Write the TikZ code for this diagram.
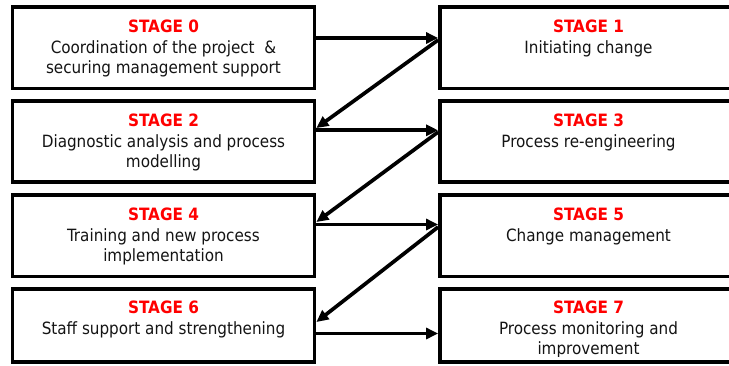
\documentclass[tikz,border=0pt]{standalone}
\usepackage{fontspec}
\setmainfont{DejaVu Sans Condensed}
\usetikzlibrary{arrows.meta}
\definecolor{stagered}{RGB}{255,0,0}
\definecolor{ink}{RGB}{20,20,20}
\tikzset{
  box/.style={draw=black, line width=3.8bp, rectangle, inner sep=0pt},
  lbox/.style={box, minimum width=302bp},
  rbox/.style={box, minimum width=297bp},
  head/.style={anchor=base, inner sep=0pt, text=stagered,
    font=\fontsize{17bp}{20bp}\selectfont\bfseries},
  body/.style={anchor=base, inner sep=0pt, text=ink,
    font=\fontsize{16.9bp}{20bp}\selectfont},
  flow/.style={line width=3.7bp, -{Triangle[length=12bp,width=11bp]}},
  thinflow/.style={flow, line width=3bp},
}
\begin{document}
\begin{tikzpicture}[x=1bp,y=-1bp]
\useasboundingbox (0,0) rectangle (729,365);

% left column of stages
\node[lbox, minimum height=81.5bp] (s0) at (163.5,47.75) {};
\node[lbox, minimum height=81bp]   (s2) at (163.5,141.5) {};
\node[lbox, minimum height=81.5bp] (s4) at (163.5,235.75) {};
\node[lbox, minimum height=73bp]   (s6) at (163.5,325.5) {};

% right column of stages (runs past the right edge)
\node[rbox, minimum height=81.5bp] (s1) at (588.5,47.75) {};
\node[rbox, minimum height=81bp]   (s3) at (588.5,141.5) {};
\node[rbox, minimum height=81.5bp] (s5) at (588.5,235.75) {};
\node[rbox, minimum height=73bp]   (s7) at (588.5,325.5) {};

% stage texts
\node[head] (h0) at (163.5,32) {STAGE 0};
\node[body] (a0) at (163.5,53) {Coordination of the project\ \ \&};
\node[body] (b0) at (163.5,73) {securing management support};

\node[head] (h1) at (588.5,32) {STAGE 1};
\node[body] (a1) at (588.5,53) {Initiating change};

\node[head] (h2) at (163.5,126) {STAGE 2};
\node[body] (a2) at (163.5,147) {Diagnostic analysis and process};
\node[body] (b2) at (163.5,167) {modelling};

\node[head] (h3) at (588.5,126) {STAGE 3};
\node[body] (a3) at (588.5,147) {Process re-engineering};

\node[head] (h4) at (163.5,220) {STAGE 4};
\node[body] (a4) at (163.5,241) {Training and new process};
\node[body] (b4) at (163.5,261) {implementation};

\node[head] (h5) at (588.5,220) {STAGE 5};
\node[body] (a5) at (588.5,241) {Change management};

\node[head] (h6) at (163.5,313) {STAGE 6};
\node[body] (a6) at (163.5,334) {Staff support and strengthening};

\node[head] (h7) at (588.5,313) {STAGE 7};
\node[body] (a7) at (588.5,334) {Process monitoring and};
\begin{scope}
  \clip (442,290) rectangle (737,356.5);
  \node[body] (b7) at (588.5,354) {improvement};
\end{scope}

% zig-zag flow between the stages
\draw[flow] (s0.east |- 0,38) -- (s1.west |- 0,38);
\draw[flow] (s1.west |- 0,40) -- (s2.east |- 0,128);
\draw[flow] (s2.east |- 0,130.3) -- (s3.west |- 0,130.3);
\draw[flow] (s3.west |- 0,132) -- (s4.east |- 0,222);
\draw[flow] (s4.east |- 0,224.5) -- (s5.west |- 0,224.5);
\draw[flow] (s5.west |- 0,227) -- (s6.east |- 0,322);
\draw[thinflow] (s6.east |- 0,333.5) -- (s7.west |- 0,333.5);
\end{tikzpicture}
\end{document}
